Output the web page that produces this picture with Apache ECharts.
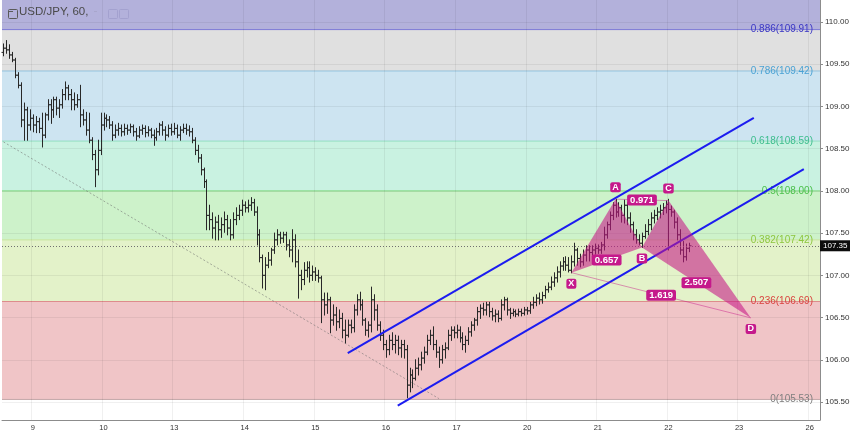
<!DOCTYPE html>
<html><head><meta charset="utf-8">
<script src="https://cdn.jsdelivr.net/npm/echarts@6/dist/echarts.min.js"></script>
<style>html,body{margin:0;padding:0;background:#fff}#c{width:850px;height:434px}</style>
</head><body><div id="c"></div>
<script>
// ---------------- data ----------------
const title = 'USD/JPY, 60,';
const days = ['8','9','10','13','14','15','16','17','20','21','22','23','26'];
const firstDayStartHour = 14;
const lastDayHours = 4;
// hourly bars: [open, close, low, high]
const ohlc = [
[109.64,109.69,109.60,109.74],[109.69,109.67,109.63,109.78],[109.67,109.61,109.57,109.73],[109.61,109.55,109.53,109.64],
[109.55,109.37,109.34,109.57],[109.37,109.25,109.22,109.40],[109.25,108.84,108.76,109.28],[108.84,108.96,108.60,109.04],
[108.96,108.78,108.60,108.99],[108.78,108.86,108.72,108.96],[108.86,108.78,108.70,108.90],[108.78,108.82,108.69,108.88],
[108.82,108.74,108.69,108.86],[108.74,108.66,108.52,108.92],[108.66,108.90,108.63,108.92],[108.90,109.02,108.84,109.08],
[109.02,108.96,108.80,109.08],[108.96,109.08,108.87,109.11],[109.08,108.98,108.90,109.11],[108.98,109.02,108.87,109.08],
[109.02,109.14,108.98,109.20],[109.14,109.22,109.08,109.29],[109.22,109.14,109.08,109.25],[109.14,109.08,108.96,109.20],
[109.08,109.02,108.96,109.16],[109.02,109.08,108.99,109.14],[109.08,108.90,108.76,109.25],[108.90,108.84,108.78,108.96],
[108.84,108.72,108.66,108.93],[108.72,108.60,108.57,108.92],[108.60,108.43,108.37,108.63],[108.43,108.25,108.05,108.48],
[108.25,108.48,108.19,108.60],[108.48,108.78,108.43,108.92],[108.78,108.86,108.72,108.92],[108.86,108.84,108.76,108.90],
[108.84,108.78,108.74,108.88],[108.78,108.66,108.60,108.82],[108.66,108.72,108.63,108.78],[108.72,108.74,108.66,108.80],
[108.74,108.70,108.65,108.78],[108.70,108.74,108.66,108.79],[108.74,108.72,108.67,108.78],[108.72,108.76,108.69,108.79],
[108.76,108.70,108.65,108.78],[108.70,108.65,108.60,108.74],[108.65,108.72,108.63,108.76],[108.72,108.74,108.67,108.78],
[108.74,108.69,108.64,108.77],[108.69,108.72,108.65,108.76],[108.72,108.66,108.63,108.74],[108.66,108.63,108.54,108.72],
[108.63,108.70,108.60,108.74],[108.70,108.78,108.66,108.80],[108.78,108.72,108.66,108.82],[108.72,108.66,108.60,108.76],
[108.66,108.74,108.64,108.78],[108.74,108.70,108.66,108.79],[108.70,108.74,108.67,108.80],[108.74,108.66,108.63,108.78],
[108.66,108.72,108.60,108.76],[108.72,108.74,108.69,108.79],[108.74,108.72,108.67,108.79],[108.72,108.70,108.65,108.77],
[108.70,108.60,108.57,108.74],[108.60,108.48,108.43,108.63],[108.48,108.39,108.34,108.54],[108.39,108.25,108.19,108.43],
[108.25,108.11,108.04,108.27],[108.11,107.71,107.54,108.13],[107.71,107.66,107.54,107.83],[107.66,107.56,107.44,107.74],
[107.56,107.63,107.42,107.69],[107.63,107.54,107.42,107.71],[107.54,107.60,107.45,107.68],[107.60,107.66,107.51,107.75],
[107.66,107.56,107.48,107.71],[107.56,107.48,107.42,107.66],[107.48,107.66,107.44,107.74],[107.66,107.71,107.60,107.80],
[107.71,107.77,107.66,107.83],[107.77,107.83,107.71,107.89],[107.83,107.80,107.75,107.87],[107.80,107.83,107.75,107.89],
[107.83,107.86,107.77,107.92],[107.86,107.75,107.71,107.90],[107.75,107.48,107.36,107.81],[107.48,107.21,107.16,107.54],
[107.21,107.00,106.85,107.24],[107.00,107.12,106.83,107.21],[107.12,107.18,107.09,107.27],[107.18,107.30,107.12,107.32],
[107.30,107.42,107.26,107.50],[107.42,107.48,107.36,107.54],[107.48,107.44,107.38,107.51],[107.44,107.48,107.39,107.51],
[107.48,107.36,107.30,107.51],[107.36,107.30,107.22,107.42],[107.30,107.42,107.16,107.54],[107.42,107.16,107.10,107.48],
[107.16,107.00,106.73,107.30],[107.00,106.95,106.83,107.06],[106.95,107.06,106.89,107.15],[107.06,107.09,106.98,107.16],
[107.09,107.00,106.92,107.16],[107.00,107.04,106.94,107.11],[107.04,107.00,106.94,107.09],[107.00,106.97,106.92,107.06],
[106.97,106.71,106.44,106.99],[106.71,106.65,106.53,106.79],[106.65,106.71,106.55,106.79],[106.71,106.47,106.32,106.74],
[106.47,106.53,106.41,106.65],[106.53,106.45,106.35,106.62],[106.45,106.49,106.38,106.59],[106.49,106.35,106.26,106.55],
[106.35,106.29,106.20,106.47],[106.29,106.41,106.27,106.47],[106.41,106.38,106.32,106.47],[106.38,106.59,106.33,106.65],
[106.59,106.71,106.53,106.77],[106.71,106.65,106.59,106.80],[106.65,106.47,106.41,106.71],[106.47,106.35,106.29,106.49],
[106.35,106.41,106.27,106.45],[106.41,106.71,106.33,106.86],[106.71,106.59,106.47,106.77],[106.59,106.41,106.35,106.65],
[106.41,106.29,106.23,106.45],[106.29,106.18,106.12,106.35],[106.18,106.12,106.03,106.23],[106.12,106.23,106.06,106.29],
[106.23,106.18,106.12,106.32],[106.18,106.23,106.08,106.29],[106.23,106.14,106.06,106.28],[106.14,106.18,106.03,106.23],
[106.18,106.12,106.02,106.23],[106.12,105.70,105.55,106.17],[105.70,105.82,105.62,105.90],[105.82,105.78,105.67,105.88],
[105.78,105.90,105.76,106.00],[105.90,105.94,105.82,106.02],[105.94,106.02,105.88,106.09],[106.02,106.09,105.96,106.15],
[106.09,106.23,106.06,106.29],[106.23,106.29,106.18,106.35],[106.29,106.18,106.12,106.39],[106.18,106.09,106.03,106.23],
[106.09,106.00,105.91,106.15],[106.00,106.12,105.96,106.17],[106.12,106.14,106.02,106.20],[106.14,106.29,106.12,106.35],
[106.29,106.35,106.23,106.39],[106.35,106.32,106.26,106.39],[106.32,106.35,106.26,106.41],[106.35,106.26,106.21,106.39],
[106.26,106.18,106.12,106.32],[106.18,106.23,106.09,106.28],[106.23,106.33,106.18,106.38],[106.33,106.41,106.28,106.45],
[106.41,106.47,106.35,106.49],[106.47,106.57,106.41,106.62],[106.57,106.61,106.49,106.65],[106.61,106.59,106.53,106.67],
[106.59,106.65,106.53,106.68],[106.65,106.57,106.51,106.68],[106.57,106.52,106.47,106.61],[106.52,106.54,106.45,106.59],
[106.54,106.49,106.45,106.58],[106.49,106.65,106.47,106.71],[106.65,106.71,106.59,106.74],[106.71,106.59,106.53,106.73],
[106.59,106.55,106.49,106.61],[106.55,106.57,106.52,106.60],[106.57,106.54,106.51,106.59],[106.54,106.57,106.52,106.60],
[106.57,106.55,106.52,106.60],[106.55,106.59,106.53,106.62],[106.59,106.58,106.54,106.62],[106.58,106.65,106.55,106.68],
[106.65,106.68,106.61,106.74],[106.68,106.73,106.64,106.77],[106.73,106.71,106.66,106.79],[106.71,106.76,106.67,106.80],
[106.76,106.83,106.73,106.87],[106.83,106.86,106.80,106.91],[106.86,106.92,106.83,106.98],[106.92,106.97,106.87,107.03],
[106.97,107.04,106.92,107.10],[107.04,107.11,106.98,107.16],[107.11,107.16,107.06,107.21],[107.16,107.12,107.06,107.22],
[107.12,107.06,107.04,107.21],[107.06,107.16,107.03,107.23],[107.16,107.30,107.11,107.38],[107.30,107.20,107.12,107.32],
[107.20,107.16,107.10,107.25],[107.16,107.24,107.12,107.30],[107.24,107.30,107.17,107.35],[107.30,107.27,107.17,107.35],
[107.27,107.30,107.23,107.35],[107.30,107.32,107.25,107.37],[107.32,107.30,107.26,107.36],[107.30,107.36,107.26,107.39],
[107.36,107.48,107.30,107.57],[107.48,107.60,107.44,107.63],[107.60,107.71,107.54,107.75],[107.71,107.83,107.66,107.86],
[107.83,107.75,107.69,107.90],[107.75,107.80,107.70,107.86],[107.80,107.71,107.63,107.83],[107.71,107.83,107.62,107.89],
[107.83,107.68,107.60,107.86],[107.68,107.60,107.51,107.74],[107.60,107.48,107.42,107.63],[107.48,107.42,107.38,107.54],
[107.42,107.38,107.36,107.48],[107.38,107.46,107.33,107.50],[107.46,107.52,107.44,107.60],[107.52,107.60,107.48,107.66],
[107.60,107.68,107.54,107.74],[107.68,107.71,107.62,107.77],[107.71,107.75,107.66,107.80],[107.75,107.77,107.68,107.83],
[107.77,107.80,107.72,107.85],[107.80,107.84,107.74,107.88],[107.84,107.78,107.30,107.90],[107.78,107.75,107.70,107.82],
[107.75,107.63,107.56,107.77],[107.63,107.48,107.42,107.68],[107.48,107.30,107.25,107.54],[107.30,107.22,107.16,107.40],
[107.22,107.32,107.18,107.37],[107.32,107.35,107.28,107.38]
];
const lastPrice = 107.35;
const fibRatios = [0, 0.236, 0.382, 0.5, 0.618, 0.786, 0.886, 1];
const fibPrices = [105.53, 106.69, 107.42, 108.00, 108.59, 109.42, 109.91, 110.47];
const patternNames = ['X', 'A', 'B', 'C', 'D'];
const patternIndex = [193, 208, 217, 226, 254];
const patternPrice = [107.032, 107.902, 107.331, 107.885, 106.496];
const patternRatioLegs = [[0, 2], [1, 3], [2, 4], [0, 4]];
const patternRatios = ['0.657', '0.971', '2.507', '1.619'];
const channelUpper = [[117, 106.08], [255, 108.865]];
const channelLower = [[134, 105.458], [272, 108.257]];
const trendLine = [[0, 108.58], [148, 105.54]];

// ---------------- styles ----------------
const fibBandColors = ['#f0c5c7', '#e3f2c9', '#cdf2ca', '#c9f2e1', '#cde4f1', '#e0e0e0', '#b3b1db'];
const fibLineColors = ['#c4a9aa', '#dd8c8c', '#c6e59a', '#7fd97f', '#94dfc2', '#93c2de', '#7b78d6', '#7b78d6'];
const fibLabelColors = ['#7f7f7f', '#d9443f', '#8dc63f', '#4cc04c', '#3dbd8d', '#4aa2d4', '#3a36c4', '#3a36c4'];
const patternFill = 'rgba(198,22,135,0.58)';
const patternLine = 'rgba(198,22,135,0.45)';
const patternLabelBg = '#c5198b';
const FONT = '"Liberation Sans", Arial, sans-serif';

// ---------------- build ----------------
const categories = [];
days.forEach((d, k) => {
  const h0 = k === 0 ? firstDayStartHour : 0;
  const h1 = k === days.length - 1 ? lastDayHours : 24;
  for (let h = h0; h < h1; h++) categories.push(d + ' ' + String(h).padStart(2, '0') + ':00');
});
const isDayStart = (i, v) => String(v).endsWith(' 00:00');

const chart = echarts.init(document.getElementById('c'), null, {renderer: 'canvas'});

const option = {
  animation: false,
  backgroundColor: '#ffffff',
  grid: [
    {left: 2, right: 30, top: 0, height: 420, outerBoundsMode: 'none', containLabel: false},
    {left: 2, right: 30, top: -20.22, height: 464.44, outerBoundsMode: 'none', containLabel: false}
  ],
  xAxis: [
    {type: 'category', gridIndex: 0, data: categories, boundaryGap: true, z: 1,
     axisLine: {show: true, lineStyle: {color: '#8c8c8c', width: 1}},
     axisTick: {show: false},
     axisLabel: {interval: isDayStart, formatter: v => v.split(' ')[0], color: '#333', fontSize: 7.5, margin: 4, fontFamily: FONT},
     splitLine: {show: true, interval: isDayStart, lineStyle: {color: 'rgba(0,0,0,0.06)', width: 1}}},
    {type: 'category', gridIndex: 1, data: categories, boundaryGap: true, show: false}
  ],
  yAxis: [
    {type: 'value', gridIndex: 0, position: 'right', min: 105.2868, max: 110.2605, z: 1,
     axisLine: {show: true, lineStyle: {color: '#8c8c8c', width: 1}},
     axisTick: {show: false}, axisLabel: {show: false}, splitLine: {show: false}},
    {type: 'value', gridIndex: 1, position: 'right', min: 105, max: 110.5, interval: 0.5, z: 1,
     axisLine: {show: false},
     axisTick: {show: true, length: 3, lineStyle: {color: '#8c8c8c'}},
     axisLabel: {formatter: v => v.toFixed(2), color: '#333', fontSize: 8, margin: 5, fontFamily: FONT},
     splitLine: {show: true, lineStyle: {color: 'rgba(0,0,0,0.06)', width: 1}}}
  ],
  series: [
    { // fib bands + level lines
      type: 'custom', name: 'fibBands', xAxisIndex: 1, yAxisIndex: 1, z: 0, silent: true,
      data: fibPrices.slice(0, -1).map((p, k) => [k, p, fibPrices[k + 1]]),
      encode: {x: 0, y: [1, 2]},
      renderItem: (params, api) => {
        const k = api.value(0);
        const cs = params.coordSys;
        const yLo = api.coord([0, fibPrices[k]])[1];
        const yHi = api.coord([0, fibPrices[k + 1]])[1];
        return {type: 'group', children: [
          {type: 'rect', shape: {x: cs.x, y: yHi, width: cs.width, height: yLo - yHi}, style: {fill: fibBandColors[k]}},
          {type: 'line', shape: {x1: cs.x, y1: yLo, x2: cs.x + cs.width, y2: yLo}, style: {stroke: fibLineColors[k], lineWidth: 1}}
        ]};
      }
    },
    { // fib labels
      type: 'custom', name: 'fibLabels', xAxisIndex: 1, yAxisIndex: 1, z: 3, silent: true,
      data: fibPrices.map((p, k) => [k, p]),
      encode: {x: 0, y: 1},
      renderItem: (params, api) => {
        const k = api.value(0);
        const cs = params.coordSys;
        const y = api.coord([0, fibPrices[k]])[1];
        return {type: 'text', x: cs.x + cs.width - 7, y: y,
          style: {text: fibRatios[k] + '(' + fibPrices[k].toFixed(2) + ')', fill: fibLabelColors[k],
                  font: '10px ' + FONT, align: 'right', verticalAlign: 'middle'}};
      }
    },
    { // dashed trend line + current price line
      type: 'line', name: 'trend', xAxisIndex: 1, yAxisIndex: 1, z: 2, silent: true,
      data: trendLine, showSymbol: false, symbol: 'none',
      lineStyle: {color: 'rgba(110,110,110,0.55)', width: 1, type: [2, 2]},
      markLine: {
        symbol: 'none', silent: true, animation: false,
        lineStyle: {color: '#707070', width: 1, type: [1, 2]},
        label: {show: true, position: 'end', distance: 0, formatter: () => lastPrice.toFixed(2),
                backgroundColor: '#0d0d0d', color: '#fff', fontSize: 8, fontFamily: FONT, padding: [2, 3, 1, 3]},
        data: [{yAxis: lastPrice}]
      }
    },
    { // OHLC bars
      type: 'custom', name: 'USD/JPY', xAxisIndex: 1, yAxisIndex: 1, z: 4,
      data: ohlc.map((b, i) => [i, b[0], b[1], b[2], b[3]]),
      encode: {x: 0, y: [1, 2, 3, 4]},
      renderItem: (params, api) => {
        const i = api.value(0);
        const pO = api.coord([i, api.value(1)]);
        const yC = api.coord([i, api.value(2)])[1];
        const yL = api.coord([i, api.value(3)])[1];
        const yH = api.coord([i, api.value(4)])[1];
        const x = Math.round(pO[0]) + 0.5;
        const st = {stroke: '#282828', lineWidth: 1};
        return {type: 'group', children: [
          {type: 'line', shape: {x1: x, y1: yH - 0.5, x2: x, y2: yL + 0.5}, style: st},
          {type: 'line', shape: {x1: x - 2, y1: pO[1], x2: x, y2: pO[1]}, style: st},
          {type: 'line', shape: {x1: x, y1: yC, x2: x + 2, y2: yC}, style: st}
        ]};
      }
    },
    { type: 'line', name: 'channelUpper', xAxisIndex: 1, yAxisIndex: 1, z: 5, silent: true,
      data: channelUpper, showSymbol: false, symbol: 'none', lineStyle: {color: '#1c1cf0', width: 2} },
    { type: 'line', name: 'channelLower', xAxisIndex: 1, yAxisIndex: 1, z: 5, silent: true,
      data: channelLower, showSymbol: false, symbol: 'none', lineStyle: {color: '#1c1cf0', width: 2} },
    { // XABCD pattern
      type: 'custom', name: 'pattern', xAxisIndex: 1, yAxisIndex: 1, z: 6, silent: true,
      data: [[patternIndex[0], patternPrice[0]]],
      encode: {x: 0, y: 1},
      renderItem: (params, api) => {
        const P = patternIndex.map((ix, k) => api.coord([ix, patternPrice[k]]));
        const [X, A, B, C, D] = P;
        const children = [
          {type: 'polygon', shape: {points: [X, A, B]}, style: {fill: patternFill}},
          {type: 'polygon', shape: {points: [B, C, D]}, style: {fill: patternFill}},
          {type: 'line', shape: {x1: X[0], y1: X[1], x2: D[0], y2: D[1]}, style: {stroke: patternLine, lineWidth: 1}},
          {type: 'line', shape: {x1: A[0], y1: A[1], x2: C[0], y2: C[1]}, style: {stroke: patternLine, lineWidth: 1}}
        ];
        patternRatioLegs.forEach(([a, b], k) => {
          children.push({type: 'text', x: (P[a][0] + P[b][0]) / 2, y: (P[a][1] + P[b][1]) / 2,
            style: {text: patternRatios[k], fill: '#fff', font: 'bold 9.5px ' + FONT, align: 'center', verticalAlign: 'middle',
                    backgroundColor: patternLabelBg, padding: [1, 3, 0, 3], borderRadius: 2}});
        });
        const above = [false, true, false, true, false];
        P.forEach((p, k) => {
          children.push({type: 'text', x: p[0], y: p[1] + (above[k] ? -12 : 11),
            style: {text: patternNames[k], fill: '#fff', font: 'bold 9px ' + FONT, align: 'center', verticalAlign: 'middle',
                    backgroundColor: patternLabelBg, padding: [1, 2, 0, 2], borderRadius: 2}});
        });
        return {type: 'group', children};
      }
    }
  ],
  graphic: [
    {type: 'rect', left: 6, top: 7, z: 100, shape: {width: 9, height: 9, r: 1}, style: {fill: 'none', stroke: '#5a5a5a', lineWidth: 1}},
    {type: 'rect', left: 8, top: 11, z: 100, shape: {width: 5, height: 1}, style: {fill: '#5a5a5a'}},
    {type: 'text', left: 19, top: 6, z: 100, style: {text: title, font: '11.5px ' + FONT, fill: '#4a4a4a'}},
    {type: 'rect', left: 94, top: 11, z: 100, shape: {width: 3, height: 1}, style: {fill: '#a8a6cc'}},
    {type: 'rect', left: 106, top: 7, z: 100, shape: {width: 9, height: 9, r: 1}, style: {fill: 'none', stroke: '#a3a1cf', lineWidth: 1}},
    {type: 'rect', left: 117, top: 7, z: 100, shape: {width: 9, height: 9, r: 1}, style: {fill: 'none', stroke: '#a3a1cf', lineWidth: 1}}
  ]
};
chart.setOption(option);
</script>
</body></html>
